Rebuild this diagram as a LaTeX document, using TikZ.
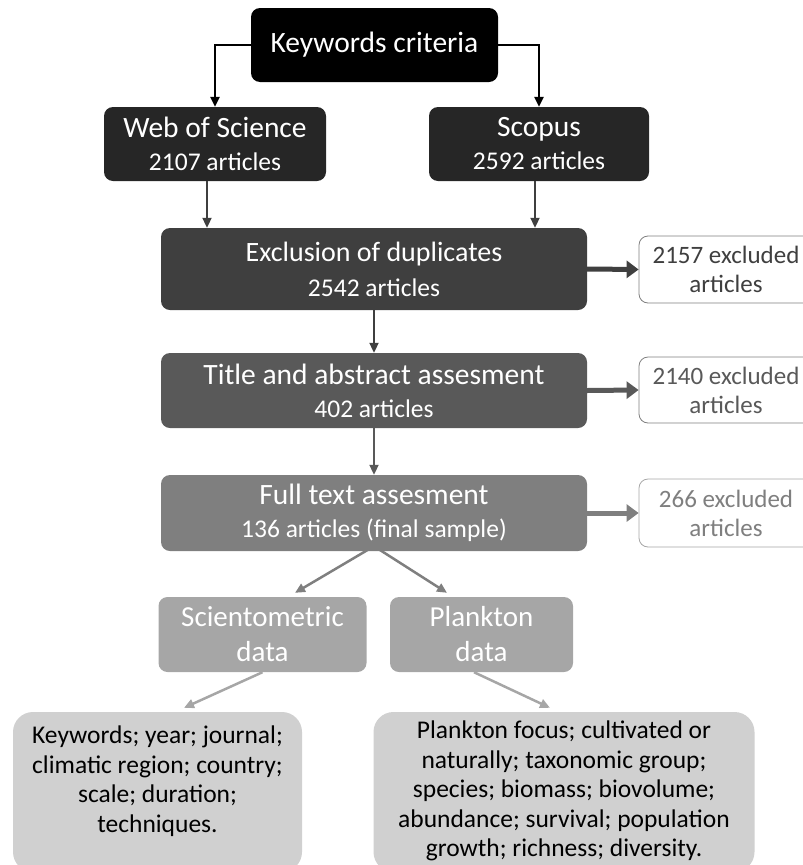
\documentclass[tikz,border=0pt]{standalone}
\usepackage{fontspec}
\setmainfont{Carlito}
\usetikzlibrary{arrows.meta,calc}
\definecolor{c0}{HTML}{000000}
\definecolor{c1}{HTML}{262626}
\definecolor{c2}{HTML}{3F3F3F}
\definecolor{c3}{HTML}{595959}
\definecolor{c4}{HTML}{7F7F7F}
\definecolor{c5}{HTML}{A6A6A6}
\definecolor{c6}{HTML}{D0D0D0}
\newcommand\hsz{\fontsize{29.5}{33}\selectfont}
\newcommand\ssz{\fontsize{25.5}{33}\selectfont}
\begin{document}
\begin{tikzpicture}[x=1pt,y=-1pt,
 box/.style={rounded corners=9pt, inner sep=0pt, align=center, text=white, font=\hsz},
 exbox/.style={rounded corners=9pt, draw, line width=0.8pt, fill=white, inner sep=0pt, align=center, font=\fontsize{25}{29}\selectfont, minimum width=174pt, minimum height=67pt},
 bigbox/.style={fill=c6, rounded corners=20pt, inner sep=0pt, minimum height=160pt},
 bigtext/.style={align=center, text=black, inner sep=0pt, font=\fontsize{25.5}{29.5}\selectfont},
 thinarrow/.style={line width=2pt, -{Triangle[length=10pt,width=9pt]}},
 thickarrow/.style={line width=5pt, -{Triangle[length=12pt,width=17pt]}},
]
\useasboundingbox (0,0) rectangle (803,865);
\clip (0,0) rectangle (803,865);

\node[box, fill=c0, minimum width=247pt, minimum height=74pt] (kw) at (374.5,45) {Keywords criteria};
\node[box, fill=c1, minimum width=222pt, minimum height=74pt] (wos) at (215,144) {Web of Science\\{\ssz 2107 articles}};
\node[box, fill=c1, minimum width=220pt, minimum height=74pt] (sco) at (539,144) {Scopus\\{\ssz 2592 articles}};
\node[box, fill=c2, minimum width=426pt, minimum height=82pt, font=\fontsize{28}{33}\selectfont] (excl) at (374,269) {Exclusion of duplicates\\[2pt]{\ssz 2542 articles}};
\node[exbox, draw=c4, text=c2] (ex1) at (726,269.5) {2157 excluded\\articles};
\node[box, fill=c3, minimum width=426pt, minimum height=75pt] (title) at (374,390.5) {Title and abstract assesment\\{\ssz 402 articles}};
\node[exbox, draw=c4, text=c3, minimum height=66pt] (ex2) at (726,390) {2140 excluded\\articles};
\node[box, fill=c4, minimum width=426pt, minimum height=76pt] (full) at (374,513) {Full text assesment\\{\ssz 136 articles (final sample)}};
\node[exbox, draw=c5, text=c4, minimum height=68pt] (ex3) at (726,513) {266 excluded\\articles};
\node[box, fill=c5, minimum width=208pt, minimum height=75pt, font=\fontsize{29}{35}\selectfont] (sci) at (262.5,634.5) {Scientometric\\data};
\node[box, fill=c5, minimum width=183pt, minimum height=75pt, font=\fontsize{29}{35}\selectfont] (plk) at (481.5,634.5) {Plankton\\data};
\node[bigbox, minimum width=289pt] (bl) at (157.5,792) {};
\node[bigtext] (blt) at (157.5,781) {Keywords; year; journal;\\climatic region; country;\\scale; duration;\\techniques.};
\node[bigbox, minimum width=381pt] (br) at (564,792) {};
\node[bigtext] (brt) at (564,791) {Plankton focus; cultivated or\\naturally; taxonomic group;\\species; biomass; biovolume;\\abundance; survival; population\\growth; richness; diversity.};

\draw[thinarrow, c0, line width=2.5pt] (kw.west) -| (wos.north);
\draw[thinarrow, c0, line width=2.5pt] (kw.east) -| (sco.north);
\draw[thinarrow, c2] ([xshift=-8pt]wos.south) -- ([xshift=-8pt]wos.south |- excl.north);
\draw[thinarrow, c2] ([xshift=-4pt]sco.south) -- ([xshift=-4pt]sco.south |- excl.north);
\draw[thinarrow, c2] (excl.south) -- (title.north);
\draw[thinarrow, c3] (title.south) -- (full.north);
\draw[thickarrow, c2] (excl.east) -- (ex1.west);
\draw[thickarrow, c3] (title.east) -- (ex2.west);
\draw[thickarrow, c4] (full.east) -- (ex3.west);
\coordinate (sp) at ([yshift=5pt]full.south);
\coordinate (sciin) at ($(sci.north)+(32.5,-4)$);
\coordinate (plkin) at ($(plk.north)+(-34.5,-4)$);
\draw[thinarrow, c4, line width=2.5pt] (sp) -- (sciin);
\draw[thinarrow, c4, line width=2.5pt] (sp) -- (plkin);
\coordinate (blin) at ($(bl.north)+(26.5,-4)$);
\coordinate (brin) at ($(br.north)+(-14,-4)$);
\draw[thinarrow, c5, line width=2.5pt] (sci.south) -- (blin);
\draw[thinarrow, c5, line width=2.5pt] ([xshift=-7.5pt]plk.south) -- (brin);
\end{tikzpicture}
\end{document}
